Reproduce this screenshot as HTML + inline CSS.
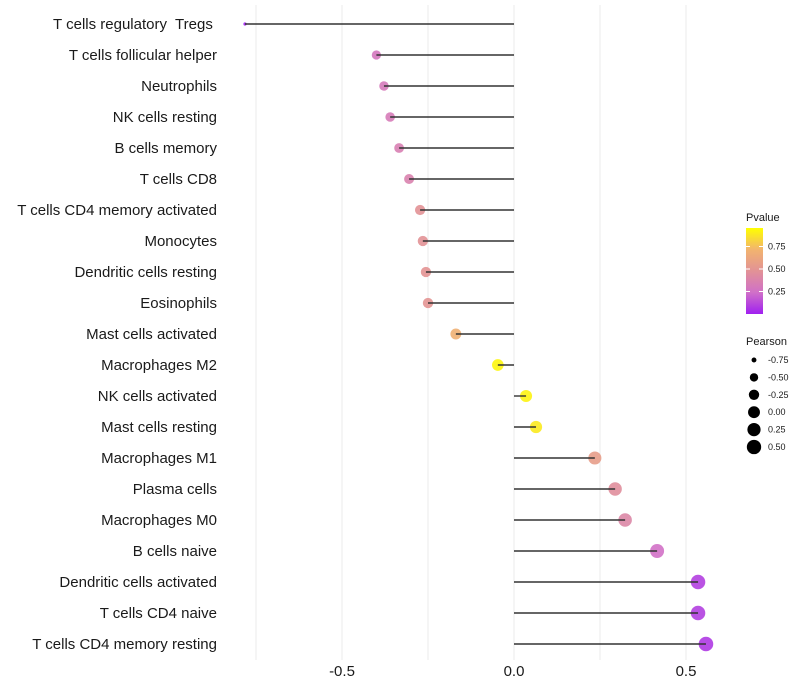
<!DOCTYPE html>
<html><head><meta charset="utf-8"><style>
body{margin:0;background:#fff;}
svg{display:block;font-family:"Liberation Sans",sans-serif;}
text{white-space:pre;}
</style></head><body>
<svg id="c" width="800" height="700"></svg>
<script>
const categories=["T cells regulatory  Tregs ","T cells follicular helper","Neutrophils","NK cells resting","B cells memory","T cells CD8","T cells CD4 memory activated","Monocytes","Dendritic cells resting","Eosinophils","Mast cells activated","Macrophages M2","NK cells activated","Mast cells resting","Macrophages M1","Plasma cells","Macrophages M0","B cells naive","Dendritic cells activated","T cells CD4 naive","T cells CD4 memory resting"];
const pearson=[-0.782,-0.40,-0.378,-0.36,-0.334,-0.305,-0.273,-0.265,-0.256,-0.25,-0.169,-0.047,0.035,0.064,0.235,0.294,0.323,0.416,0.535,0.535,0.558];
const pvalue=[0.0,0.3,0.32,0.33,0.36,0.38,0.5,0.5,0.51,0.52,0.72,0.97,0.96,0.93,0.58,0.47,0.42,0.26,0.1,0.1,0.08];
const xTicks=[-0.5,0,0.5];
const xTickLabels=["-0.5","0.0","0.5"];
const pTicks=[0.25,0.5,0.75];
const sizeLegend=[-0.75,-0.5,-0.25,0,0.25,0.5];
const NS="http://www.w3.org/2000/svg",svg=document.getElementById('c');
function el(t,a,p){const e=document.createElementNS(NS,t);for(const k in a)e.setAttribute(k,a[k]);(p||svg).appendChild(e);return e;}
const x=v=>514+v*344;
const y=i=>24+i*31;
const r=v=>1.6+5.7*Math.sqrt(Math.max(0,(v+0.78)/1.34));
function lerp(a,b,t){return a.map((c,i)=>Math.round(c+(b[i]-c)*t));}
function col(p){const s=[[160,32,240],[208,112,200],[226,146,150],[242,180,110],[255,255,0]];const f=Math.min(3.999,p*4),k=Math.floor(f);const c=lerp(s[k],s[k+1],f-k);return `rgb(${c})`;}
[-0.75,-0.5,-0.25,0,0.25,0.5].forEach(v=>{const g=el('line',{x1:x(v),x2:x(v),y1:5,y2:660,stroke:'#ebebeb','stroke-width':1});

});
xTicks.forEach((v,i)=>{const t=el('text',{x:x(v),y:676,'text-anchor':'middle','font-size':15,fill:'#1a1a1a'});t.textContent=xTickLabels[i];

});
categories.forEach((c,i)=>{
const t=el('text',{x:217,y:y(i)+5,'text-anchor':'end','font-size':15,fill:'#1a1a1a'});t.textContent=c;


const d=el('circle',{cx:x(pearson[i]),cy:y(i),r:r(pearson[i]),fill:col(pvalue[i]),'fill-opacity':0.9});


const l=el('line',{x1:x(0),x2:x(pearson[i]),y1:y(i),y2:y(i),stroke:'#333','stroke-width':1.4});


});
const lt=el('text',{x:746,y:221,'font-size':11,fill:'#1a1a1a'});lt.textContent='Pvalue';


const defs=el('defs',{});const gr=el('linearGradient',{id:'g',x1:0,y1:1,x2:0,y2:0},defs);
[0,0.25,0.5,0.75,1].forEach(o=>el('stop',{offset:o,'stop-color':col(o)},gr));
const cb=el('rect',{x:746,y:228,width:17,height:86,fill:'url(#g)'});


const py=p=>314-p*90;
pTicks.forEach(p=>{el('line',{x1:746,x2:750,y1:py(p),y2:py(p),stroke:'#fff'});el('line',{x1:759,x2:763,y1:py(p),y2:py(p),stroke:'#fff'});
const t=el('text',{x:768,y:py(p)+3,'font-size':9,fill:'#1a1a1a'});t.textContent=p.toFixed(2);

});
const st=el('text',{x:746,y:345,'font-size':11,fill:'#1a1a1a'});st.textContent='Pearson';


sizeLegend.forEach((v,i)=>{const yy=360+i*17.4;
const c=el('circle',{cx:754,cy:yy,r:r(v),fill:'#000'});


const t=el('text',{x:768,y:yy+3,'font-size':9,fill:'#1a1a1a'});t.textContent=v.toFixed(2);

});
</script>
</body></html>
